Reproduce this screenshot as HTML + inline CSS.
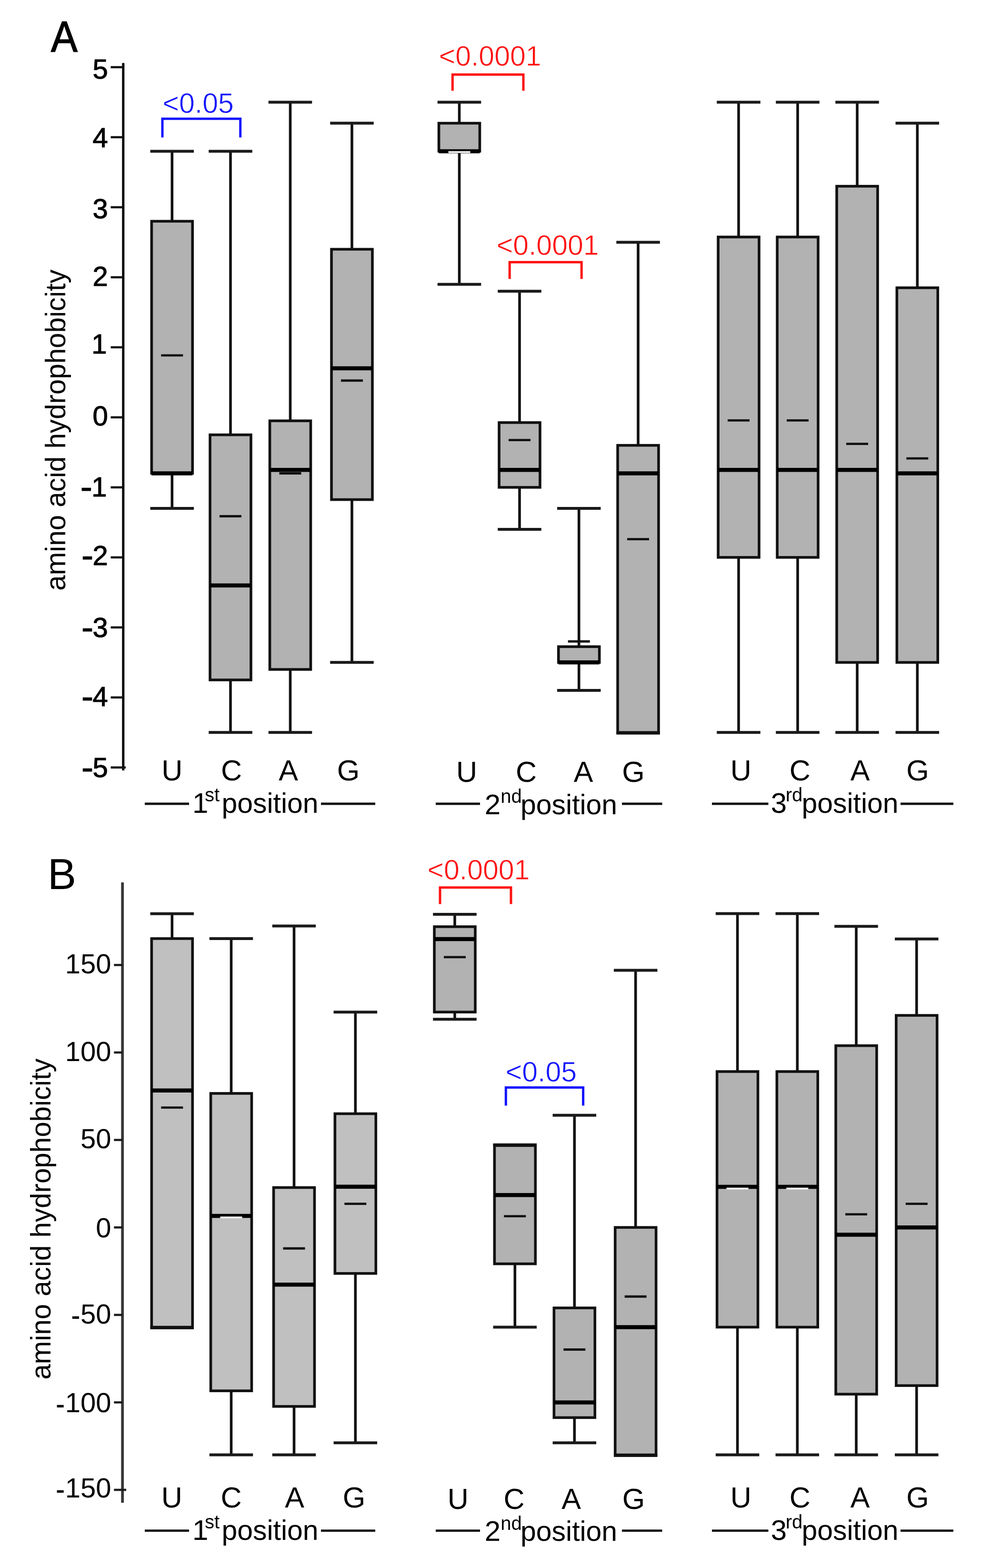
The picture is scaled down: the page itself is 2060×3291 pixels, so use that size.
<!DOCTYPE html>
<html><head><meta charset="utf-8"><title>Amino acid hydrophobicity by codon position</title>
<style>html,body{margin:0;padding:0;background:#fff;}body{width:2060px;height:3291px;overflow:hidden;}svg{display:block;}</style>
</head><body>
<svg width="2060" height="3291" viewBox="0 0 2060 3291" font-family="'Liberation Sans', Arial, Helvetica, sans-serif">
<rect width="2060" height="3291" fill="#fff"/>
<g stroke-linecap="butt">
<text x="107" y="108.1" font-size="90" text-anchor="start" fill="#000" stroke="#000" stroke-width="1.6" textLength="55.8" lengthAdjust="spacingAndGlyphs">A</text>
<line x1="258.8" y1="132.3" x2="258.8" y2="1617" stroke="#000" stroke-width="5.0"/>
<line x1="232.5" y1="141" x2="258.8" y2="141" stroke="#111" stroke-width="4.6"/>
<text x="226.8" y="165.4" font-size="58" text-anchor="end" fill="#000" stroke="#000" stroke-width="1.1">5</text>
<line x1="232.5" y1="287.98" x2="258.8" y2="287.98" stroke="#111" stroke-width="4.6"/>
<text x="226.8" y="309" font-size="58" text-anchor="end" fill="#000" stroke="#000" stroke-width="1.1">4</text>
<line x1="232.5" y1="434.96" x2="258.8" y2="434.96" stroke="#111" stroke-width="4.6"/>
<text x="226.8" y="458" font-size="58" text-anchor="end" fill="#000" stroke="#000" stroke-width="1.1">3</text>
<line x1="232.5" y1="581.94" x2="258.8" y2="581.94" stroke="#111" stroke-width="4.6"/>
<text x="226.8" y="599.5" font-size="58" text-anchor="end" fill="#000" stroke="#000" stroke-width="1.1">2</text>
<line x1="232.5" y1="728.92" x2="258.8" y2="728.92" stroke="#111" stroke-width="4.6"/>
<text x="224.5" y="742.3" font-size="58" text-anchor="end" fill="#000" stroke="#000" stroke-width="1.1">1</text>
<line x1="232.5" y1="875.9" x2="258.8" y2="875.9" stroke="#111" stroke-width="4.6"/>
<text x="226.8" y="893.3" font-size="58" text-anchor="end" fill="#000" stroke="#000" stroke-width="1.1">0</text>
<line x1="232.5" y1="1022.88" x2="258.8" y2="1022.88" stroke="#111" stroke-width="4.6"/>
<text x="224.5" y="1041.5" font-size="58" text-anchor="end" fill="#000" stroke="#000" stroke-width="1.1">1</text><text x="0" y="0" font-size="58" text-anchor="end" transform="translate(193.75 1045.5) scale(1.3 1.25)" stroke="#000" stroke-width="0.9">-</text>
<line x1="232.5" y1="1169.86" x2="258.8" y2="1169.86" stroke="#111" stroke-width="4.6"/>
<text x="226.8" y="1185.5" font-size="58" text-anchor="end" fill="#000" stroke="#000" stroke-width="1.1">2</text><text x="0" y="0" font-size="58" text-anchor="end" transform="translate(196.05 1189.5) scale(1.3 1.25)" stroke="#000" stroke-width="0.9">-</text>
<line x1="232.5" y1="1316.84" x2="258.8" y2="1316.84" stroke="#111" stroke-width="4.6"/>
<text x="226.8" y="1336.8" font-size="58" text-anchor="end" fill="#000" stroke="#000" stroke-width="1.1">3</text><text x="0" y="0" font-size="58" text-anchor="end" transform="translate(196.05 1340.8) scale(1.3 1.25)" stroke="#000" stroke-width="0.9">-</text>
<line x1="232.5" y1="1463.82" x2="258.8" y2="1463.82" stroke="#111" stroke-width="4.6"/>
<text x="226.8" y="1481.6" font-size="58" text-anchor="end" fill="#000" stroke="#000" stroke-width="1.1">4</text><text x="0" y="0" font-size="58" text-anchor="end" transform="translate(196.05 1485.6) scale(1.3 1.25)" stroke="#000" stroke-width="0.9">-</text>
<line x1="232.5" y1="1610.8" x2="264" y2="1610.8" stroke="#111" stroke-width="4.6"/>
<text x="226.8" y="1631.1" font-size="58" text-anchor="end" fill="#000" stroke="#000" stroke-width="1.1">5</text><text x="0" y="0" font-size="58" text-anchor="end" transform="translate(196.05 1635.1) scale(1.3 1.25)" stroke="#000" stroke-width="0.9">-</text>
<text transform="translate(137.3 902.7) rotate(-90)" font-size="58.3" text-anchor="middle">amino acid hydrophobicity</text>
<line x1="361.3" y1="317.38" x2="361.3" y2="464.36" stroke="#111" stroke-width="5.6"/>
<line x1="361.3" y1="993.48" x2="361.3" y2="1066.97" stroke="#111" stroke-width="5.6"/>
<line x1="315.55" y1="317.38" x2="407.05" y2="317.38" stroke="#1a1a1a" stroke-width="6.0"/>
<line x1="315.55" y1="1066.97" x2="407.05" y2="1066.97" stroke="#1a1a1a" stroke-width="6.0"/>
<rect x="318.35" y="464.36" width="85.9" height="529.13" fill="#b2b2b2" stroke="#111" stroke-width="5.6"/>
<line x1="318.35" y1="993.48" x2="404.25" y2="993.48" stroke="#000" stroke-width="8.5"/>
<line x1="338.3" y1="745.82" x2="384.3" y2="745.82" stroke="#111" stroke-width="4.8"/>
<line x1="484" y1="317.38" x2="484" y2="912.64" stroke="#111" stroke-width="5.6"/>
<line x1="484" y1="1427.07" x2="484" y2="1537.31" stroke="#111" stroke-width="5.6"/>
<line x1="438.25" y1="317.38" x2="529.75" y2="317.38" stroke="#1a1a1a" stroke-width="6.0"/>
<line x1="438.25" y1="1537.31" x2="529.75" y2="1537.31" stroke="#1a1a1a" stroke-width="6.0"/>
<rect x="441.05" y="912.64" width="85.9" height="514.43" fill="#b2b2b2" stroke="#111" stroke-width="5.6"/>
<line x1="441.05" y1="1228.65" x2="526.95" y2="1228.65" stroke="#000" stroke-width="8.5"/>
<line x1="461" y1="1083.51" x2="507" y2="1083.51" stroke="#111" stroke-width="4.8"/>
<line x1="609.5" y1="214.49" x2="609.5" y2="883.25" stroke="#111" stroke-width="5.6"/>
<line x1="609.5" y1="1405.03" x2="609.5" y2="1537.31" stroke="#111" stroke-width="5.6"/>
<line x1="563.75" y1="214.49" x2="655.25" y2="214.49" stroke="#1a1a1a" stroke-width="6.0"/>
<line x1="563.75" y1="1537.31" x2="655.25" y2="1537.31" stroke="#1a1a1a" stroke-width="6.0"/>
<rect x="566.55" y="883.25" width="85.9" height="521.78" fill="#b2b2b2" stroke="#111" stroke-width="5.6"/>
<line x1="566.55" y1="986.13" x2="652.45" y2="986.13" stroke="#000" stroke-width="8.5"/>
<line x1="586.5" y1="993.48" x2="632.5" y2="993.48" stroke="#111" stroke-width="4.8"/>
<line x1="739" y1="258.58" x2="739" y2="523.15" stroke="#111" stroke-width="5.6"/>
<line x1="739" y1="1048.6" x2="739" y2="1390.33" stroke="#111" stroke-width="5.6"/>
<line x1="693.25" y1="258.58" x2="784.75" y2="258.58" stroke="#1a1a1a" stroke-width="6.0"/>
<line x1="693.25" y1="1390.33" x2="784.75" y2="1390.33" stroke="#1a1a1a" stroke-width="6.0"/>
<rect x="696.05" y="523.15" width="85.9" height="525.45" fill="#b2b2b2" stroke="#111" stroke-width="5.6"/>
<line x1="696.05" y1="773.01" x2="781.95" y2="773.01" stroke="#000" stroke-width="8.5"/>
<line x1="716" y1="798.74" x2="762" y2="798.74" stroke="#111" stroke-width="4.8"/>
<line x1="964.5" y1="214.49" x2="964.5" y2="258.58" stroke="#111" stroke-width="5.6"/>
<line x1="964.5" y1="317.38" x2="964.5" y2="596.64" stroke="#111" stroke-width="5.6"/>
<line x1="918.75" y1="214.49" x2="1010.25" y2="214.49" stroke="#1a1a1a" stroke-width="6.0"/>
<line x1="918.75" y1="596.64" x2="1010.25" y2="596.64" stroke="#1a1a1a" stroke-width="6.0"/>
<rect x="921.55" y="258.58" width="85.9" height="58.79" fill="#b2b2b2" stroke="#111" stroke-width="5.6"/>
<line x1="921.55" y1="317.38" x2="1007.45" y2="317.38" stroke="#000" stroke-width="8.5"/>
<rect x="941.5" y="317.21" width="46" height="4" fill="#f0f0f0"/>
<line x1="1091" y1="611.34" x2="1091" y2="886.92" stroke="#111" stroke-width="5.6"/>
<line x1="1091" y1="1022.88" x2="1091" y2="1111.07" stroke="#111" stroke-width="5.6"/>
<line x1="1045.25" y1="611.34" x2="1136.75" y2="611.34" stroke="#1a1a1a" stroke-width="6.0"/>
<line x1="1045.25" y1="1111.07" x2="1136.75" y2="1111.07" stroke="#1a1a1a" stroke-width="6.0"/>
<rect x="1048.05" y="886.92" width="85.9" height="135.96" fill="#b2b2b2" stroke="#111" stroke-width="5.6"/>
<line x1="1048.05" y1="986.13" x2="1133.95" y2="986.13" stroke="#000" stroke-width="8.5"/>
<line x1="1068" y1="923.67" x2="1114" y2="923.67" stroke="#111" stroke-width="4.8"/>
<line x1="1215.7" y1="1066.97" x2="1215.7" y2="1357.26" stroke="#111" stroke-width="5.6"/>
<line x1="1215.7" y1="1390.33" x2="1215.7" y2="1449.12" stroke="#111" stroke-width="5.6"/>
<line x1="1169.95" y1="1066.97" x2="1261.45" y2="1066.97" stroke="#1a1a1a" stroke-width="6.0"/>
<line x1="1169.95" y1="1449.12" x2="1261.45" y2="1449.12" stroke="#1a1a1a" stroke-width="6.0"/>
<rect x="1172.75" y="1357.26" width="85.9" height="33.07" fill="#b2b2b2" stroke="#111" stroke-width="5.6"/>
<line x1="1172.75" y1="1390.33" x2="1258.65" y2="1390.33" stroke="#000" stroke-width="8.5"/>
<line x1="1192.7" y1="1346.24" x2="1238.7" y2="1346.24" stroke="#111" stroke-width="4.8"/>
<line x1="1340" y1="508.45" x2="1340" y2="934.69" stroke="#111" stroke-width="5.6"/>
<line x1="1294.25" y1="508.45" x2="1385.75" y2="508.45" stroke="#1a1a1a" stroke-width="6.0"/>
<line x1="1294.25" y1="1538.81" x2="1385.75" y2="1538.81" stroke="#1a1a1a" stroke-width="6.0"/>
<rect x="1297.05" y="934.69" width="85.9" height="602.62" fill="#b2b2b2" stroke="#111" stroke-width="5.6"/>
<line x1="1297.05" y1="993.48" x2="1382.95" y2="993.48" stroke="#000" stroke-width="8.5"/>
<line x1="1317" y1="1131.65" x2="1363" y2="1131.65" stroke="#111" stroke-width="4.8"/>
<line x1="1551" y1="214.49" x2="1551" y2="497.43" stroke="#111" stroke-width="5.6"/>
<line x1="1551" y1="1169.86" x2="1551" y2="1537.31" stroke="#111" stroke-width="5.6"/>
<line x1="1505.25" y1="214.49" x2="1596.75" y2="214.49" stroke="#1a1a1a" stroke-width="6.0"/>
<line x1="1505.25" y1="1537.31" x2="1596.75" y2="1537.31" stroke="#1a1a1a" stroke-width="6.0"/>
<rect x="1508.05" y="497.43" width="85.9" height="672.43" fill="#b2b2b2" stroke="#111" stroke-width="5.6"/>
<line x1="1508.05" y1="986.13" x2="1593.95" y2="986.13" stroke="#000" stroke-width="8.5"/>
<line x1="1528" y1="882.37" x2="1574" y2="882.37" stroke="#111" stroke-width="4.8"/>
<line x1="1675" y1="214.49" x2="1675" y2="497.43" stroke="#111" stroke-width="5.6"/>
<line x1="1675" y1="1169.86" x2="1675" y2="1537.31" stroke="#111" stroke-width="5.6"/>
<line x1="1629.25" y1="214.49" x2="1720.75" y2="214.49" stroke="#1a1a1a" stroke-width="6.0"/>
<line x1="1629.25" y1="1537.31" x2="1720.75" y2="1537.31" stroke="#1a1a1a" stroke-width="6.0"/>
<rect x="1632.05" y="497.43" width="85.9" height="672.43" fill="#b2b2b2" stroke="#111" stroke-width="5.6"/>
<line x1="1632.05" y1="986.13" x2="1717.95" y2="986.13" stroke="#000" stroke-width="8.5"/>
<line x1="1652" y1="882.37" x2="1698" y2="882.37" stroke="#111" stroke-width="4.8"/>
<line x1="1800" y1="214.49" x2="1800" y2="390.87" stroke="#111" stroke-width="5.6"/>
<line x1="1800" y1="1390.33" x2="1800" y2="1537.31" stroke="#111" stroke-width="5.6"/>
<line x1="1754.25" y1="214.49" x2="1845.75" y2="214.49" stroke="#1a1a1a" stroke-width="6.0"/>
<line x1="1754.25" y1="1537.31" x2="1845.75" y2="1537.31" stroke="#1a1a1a" stroke-width="6.0"/>
<rect x="1757.05" y="390.87" width="85.9" height="999.46" fill="#b2b2b2" stroke="#111" stroke-width="5.6"/>
<line x1="1757.05" y1="986.13" x2="1842.95" y2="986.13" stroke="#000" stroke-width="8.5"/>
<line x1="1777" y1="931.61" x2="1823" y2="931.61" stroke="#111" stroke-width="4.8"/>
<line x1="1926.3" y1="258.58" x2="1926.3" y2="603.99" stroke="#111" stroke-width="5.6"/>
<line x1="1926.3" y1="1390.33" x2="1926.3" y2="1537.31" stroke="#111" stroke-width="5.6"/>
<line x1="1880.55" y1="258.58" x2="1972.05" y2="258.58" stroke="#1a1a1a" stroke-width="6.0"/>
<line x1="1880.55" y1="1537.31" x2="1972.05" y2="1537.31" stroke="#1a1a1a" stroke-width="6.0"/>
<rect x="1883.35" y="603.99" width="85.9" height="786.34" fill="#b2b2b2" stroke="#111" stroke-width="5.6"/>
<line x1="1883.35" y1="993.48" x2="1969.25" y2="993.48" stroke="#000" stroke-width="8.5"/>
<line x1="1903.3" y1="962.18" x2="1949.3" y2="962.18" stroke="#111" stroke-width="4.8"/>
<text x="100" y="1865.9" font-size="90" text-anchor="start" fill="#000" >B</text>
<line x1="257.2" y1="1852" x2="257.2" y2="3154" stroke="#383838" stroke-width="5.8"/>
<line x1="239.3" y1="2025.4" x2="257.2" y2="2025.4" stroke="#1c1c1c" stroke-width="4.6"/>
<text x="233.5" y="2042.8" font-size="58" text-anchor="end" fill="#000" >150</text>
<line x1="239.3" y1="2209" x2="257.2" y2="2209" stroke="#1c1c1c" stroke-width="4.6"/>
<text x="233.5" y="2226.6" font-size="58" text-anchor="end" fill="#000" >100</text>
<line x1="239.3" y1="2392.6" x2="257.2" y2="2392.6" stroke="#1c1c1c" stroke-width="4.6"/>
<text x="233.5" y="2410.2" font-size="58" text-anchor="end" fill="#000" >50</text>
<line x1="239.3" y1="2576.2" x2="257.2" y2="2576.2" stroke="#1c1c1c" stroke-width="4.6"/>
<text x="233.5" y="2597.2" font-size="58" text-anchor="end" fill="#000" >0</text>
<line x1="239.3" y1="2759.8" x2="257.2" y2="2759.8" stroke="#1c1c1c" stroke-width="4.6"/>
<text x="233.5" y="2778.4" font-size="58" text-anchor="end" fill="#000" >50</text><text x="0" y="0" font-size="58" text-anchor="end" transform="translate(168.5 2782.9) scale(1.0 1.15)">-</text>
<line x1="239.3" y1="2943.4" x2="257.2" y2="2943.4" stroke="#1c1c1c" stroke-width="4.6"/>
<text x="233.5" y="2964.3" font-size="58" text-anchor="end" fill="#000" >100</text><text x="0" y="0" font-size="58" text-anchor="end" transform="translate(136.26 2968.8) scale(1.0 1.15)">-</text>
<line x1="239.3" y1="3127" x2="265" y2="3127" stroke="#1c1c1c" stroke-width="4.6"/>
<text x="233.5" y="3143" font-size="58" text-anchor="end" fill="#000" >150</text><text x="0" y="0" font-size="58" text-anchor="end" transform="translate(136.26 3147.5) scale(1.0 1.15)">-</text>
<text transform="translate(105.8 2558.6) rotate(-90)" font-size="58.3" text-anchor="middle">amino acid hydrophobicity</text>
<line x1="361.3" y1="1917.81" x2="361.3" y2="1969.95" stroke="#111" stroke-width="5.6"/>
<line x1="315.55" y1="1917.81" x2="407.05" y2="1917.81" stroke="#1a1a1a" stroke-width="6.0"/>
<line x1="315.55" y1="2787" x2="407.05" y2="2787" stroke="#1a1a1a" stroke-width="6.0"/>
<rect x="318.35" y="1969.95" width="85.9" height="815.55" fill="#c0c0c0" stroke="#111" stroke-width="5.6"/>
<line x1="318.35" y1="2288.68" x2="404.25" y2="2288.68" stroke="#000" stroke-width="8.5"/>
<line x1="338.3" y1="2324.67" x2="384.3" y2="2324.67" stroke="#111" stroke-width="4.8"/>
<line x1="485.5" y1="1969.95" x2="485.5" y2="2294.92" stroke="#111" stroke-width="5.6"/>
<line x1="485.5" y1="2919.16" x2="485.5" y2="3053.56" stroke="#111" stroke-width="5.6"/>
<line x1="439.75" y1="1969.95" x2="531.25" y2="1969.95" stroke="#1a1a1a" stroke-width="6.0"/>
<line x1="439.75" y1="3053.56" x2="531.25" y2="3053.56" stroke="#1a1a1a" stroke-width="6.0"/>
<rect x="442.55" y="2294.92" width="85.9" height="624.24" fill="#c0c0c0" stroke="#111" stroke-width="5.6"/>
<line x1="442.55" y1="2551.96" x2="528.45" y2="2551.96" stroke="#000" stroke-width="8.5"/>
<rect x="462.5" y="2553.27" width="46" height="4" fill="#f0f0f0"/>
<line x1="617.5" y1="1943.51" x2="617.5" y2="2492.48" stroke="#111" stroke-width="5.6"/>
<line x1="617.5" y1="2951.85" x2="617.5" y2="3053.56" stroke="#111" stroke-width="5.6"/>
<line x1="571.75" y1="1943.51" x2="663.25" y2="1943.51" stroke="#1a1a1a" stroke-width="6.0"/>
<line x1="571.75" y1="3053.56" x2="663.25" y2="3053.56" stroke="#1a1a1a" stroke-width="6.0"/>
<rect x="574.55" y="2492.48" width="85.9" height="459.37" fill="#c0c0c0" stroke="#111" stroke-width="5.6"/>
<line x1="574.55" y1="2696.27" x2="660.45" y2="2696.27" stroke="#000" stroke-width="8.5"/>
<line x1="594.5" y1="2620.26" x2="640.5" y2="2620.26" stroke="#111" stroke-width="4.8"/>
<line x1="746.3" y1="2124.18" x2="746.3" y2="2337.52" stroke="#111" stroke-width="5.6"/>
<line x1="746.3" y1="2672.77" x2="746.3" y2="3028.22" stroke="#111" stroke-width="5.6"/>
<line x1="700.55" y1="2124.18" x2="792.05" y2="2124.18" stroke="#1a1a1a" stroke-width="6.0"/>
<line x1="700.55" y1="3028.22" x2="792.05" y2="3028.22" stroke="#1a1a1a" stroke-width="6.0"/>
<rect x="703.35" y="2337.52" width="85.9" height="335.25" fill="#c0c0c0" stroke="#111" stroke-width="5.6"/>
<line x1="703.35" y1="2490.64" x2="789.25" y2="2490.64" stroke="#000" stroke-width="8.5"/>
<line x1="723.3" y1="2526.63" x2="769.3" y2="2526.63" stroke="#111" stroke-width="4.8"/>
<line x1="955" y1="1918.91" x2="955" y2="1944.98" stroke="#111" stroke-width="5.6"/>
<line x1="955" y1="2124.18" x2="955" y2="2139.23" stroke="#111" stroke-width="5.6"/>
<line x1="909.25" y1="1918.91" x2="1000.75" y2="1918.91" stroke="#1a1a1a" stroke-width="6.0"/>
<line x1="909.25" y1="2139.23" x2="1000.75" y2="2139.23" stroke="#1a1a1a" stroke-width="6.0"/>
<rect x="912.05" y="1944.98" width="85.9" height="179.19" fill="#b2b2b2" stroke="#111" stroke-width="5.6"/>
<line x1="912.05" y1="1971.05" x2="997.95" y2="1971.05" stroke="#000" stroke-width="8.5"/>
<line x1="932" y1="2008.88" x2="978" y2="2008.88" stroke="#111" stroke-width="4.8"/>
<line x1="1081.3" y1="2652.58" x2="1081.3" y2="2785.5" stroke="#111" stroke-width="5.6"/>
<line x1="1035.55" y1="2402.85" x2="1127.05" y2="2402.85" stroke="#1a1a1a" stroke-width="6.0"/>
<line x1="1035.55" y1="2785.5" x2="1127.05" y2="2785.5" stroke="#1a1a1a" stroke-width="6.0"/>
<rect x="1038.35" y="2404.35" width="85.9" height="248.23" fill="#b2b2b2" stroke="#111" stroke-width="5.6"/>
<line x1="1038.35" y1="2508.27" x2="1124.25" y2="2508.27" stroke="#000" stroke-width="8.5"/>
<line x1="1058.3" y1="2552.7" x2="1104.3" y2="2552.7" stroke="#111" stroke-width="4.8"/>
<line x1="1206.3" y1="2340.82" x2="1206.3" y2="2745.11" stroke="#111" stroke-width="5.6"/>
<line x1="1206.3" y1="2975.35" x2="1206.3" y2="3028.22" stroke="#111" stroke-width="5.6"/>
<line x1="1160.55" y1="2340.82" x2="1252.05" y2="2340.82" stroke="#1a1a1a" stroke-width="6.0"/>
<line x1="1160.55" y1="3028.22" x2="1252.05" y2="3028.22" stroke="#1a1a1a" stroke-width="6.0"/>
<rect x="1163.35" y="2745.11" width="85.9" height="230.23" fill="#b2b2b2" stroke="#111" stroke-width="5.6"/>
<line x1="1163.35" y1="2943.4" x2="1249.25" y2="2943.4" stroke="#000" stroke-width="8.5"/>
<line x1="1183.3" y1="2832.51" x2="1229.3" y2="2832.51" stroke="#111" stroke-width="4.8"/>
<line x1="1334.7" y1="2036.42" x2="1334.7" y2="2576.2" stroke="#111" stroke-width="5.6"/>
<line x1="1288.95" y1="2036.42" x2="1380.45" y2="2036.42" stroke="#1a1a1a" stroke-width="6.0"/>
<line x1="1288.95" y1="3055.06" x2="1380.45" y2="3055.06" stroke="#1a1a1a" stroke-width="6.0"/>
<rect x="1291.75" y="2576.2" width="85.9" height="477.36" fill="#b2b2b2" stroke="#111" stroke-width="5.6"/>
<line x1="1291.75" y1="2785.5" x2="1377.65" y2="2785.5" stroke="#000" stroke-width="8.5"/>
<line x1="1311.7" y1="2721.24" x2="1357.7" y2="2721.24" stroke="#111" stroke-width="4.8"/>
<line x1="1548.6" y1="1917.44" x2="1548.6" y2="2249.02" stroke="#111" stroke-width="5.6"/>
<line x1="1548.6" y1="2785.5" x2="1548.6" y2="3053.56" stroke="#111" stroke-width="5.6"/>
<line x1="1502.85" y1="1917.44" x2="1594.35" y2="1917.44" stroke="#1a1a1a" stroke-width="6.0"/>
<line x1="1502.85" y1="3053.56" x2="1594.35" y2="3053.56" stroke="#1a1a1a" stroke-width="6.0"/>
<rect x="1505.65" y="2249.02" width="85.9" height="536.48" fill="#b2b2b2" stroke="#111" stroke-width="5.6"/>
<line x1="1505.65" y1="2491.01" x2="1591.55" y2="2491.01" stroke="#000" stroke-width="8.5"/>
<rect x="1525.6" y="2492.68" width="46" height="4" fill="#f0f0f0"/>
<line x1="1674.3" y1="1917.44" x2="1674.3" y2="2249.02" stroke="#111" stroke-width="5.6"/>
<line x1="1674.3" y1="2785.5" x2="1674.3" y2="3053.56" stroke="#111" stroke-width="5.6"/>
<line x1="1628.55" y1="1917.44" x2="1720.05" y2="1917.44" stroke="#1a1a1a" stroke-width="6.0"/>
<line x1="1628.55" y1="3053.56" x2="1720.05" y2="3053.56" stroke="#1a1a1a" stroke-width="6.0"/>
<rect x="1631.35" y="2249.02" width="85.9" height="536.48" fill="#b2b2b2" stroke="#111" stroke-width="5.6"/>
<line x1="1631.35" y1="2491.01" x2="1717.25" y2="2491.01" stroke="#000" stroke-width="8.5"/>
<rect x="1651.3" y="2492.68" width="46" height="4" fill="#f0f0f0"/>
<line x1="1798" y1="1944.25" x2="1798" y2="2194.68" stroke="#111" stroke-width="5.6"/>
<line x1="1798" y1="2926.14" x2="1798" y2="3053.56" stroke="#111" stroke-width="5.6"/>
<line x1="1752.25" y1="1944.25" x2="1843.75" y2="1944.25" stroke="#1a1a1a" stroke-width="6.0"/>
<line x1="1752.25" y1="3053.56" x2="1843.75" y2="3053.56" stroke="#1a1a1a" stroke-width="6.0"/>
<rect x="1755.05" y="2194.68" width="85.9" height="731.46" fill="#b2b2b2" stroke="#111" stroke-width="5.6"/>
<line x1="1755.05" y1="2591.62" x2="1840.95" y2="2591.62" stroke="#000" stroke-width="8.5"/>
<line x1="1775" y1="2548.66" x2="1821" y2="2548.66" stroke="#111" stroke-width="4.8"/>
<line x1="1924.8" y1="1970.69" x2="1924.8" y2="2131.15" stroke="#111" stroke-width="5.6"/>
<line x1="1924.8" y1="2908.15" x2="1924.8" y2="3053.56" stroke="#111" stroke-width="5.6"/>
<line x1="1879.05" y1="1970.69" x2="1970.55" y2="1970.69" stroke="#1a1a1a" stroke-width="6.0"/>
<line x1="1879.05" y1="3053.56" x2="1970.55" y2="3053.56" stroke="#1a1a1a" stroke-width="6.0"/>
<rect x="1881.85" y="2131.15" width="85.9" height="777" fill="#b2b2b2" stroke="#111" stroke-width="5.6"/>
<line x1="1881.85" y1="2576.2" x2="1967.75" y2="2576.2" stroke="#000" stroke-width="8.5"/>
<line x1="1901.8" y1="2526.63" x2="1947.8" y2="2526.63" stroke="#111" stroke-width="4.8"/>
<text x="361.4" y="1638" font-size="61" text-anchor="middle" fill="#000" >U</text>
<text x="486" y="1638" font-size="61" text-anchor="middle" fill="#000" >C</text>
<text x="605.5" y="1638" font-size="61" text-anchor="middle" fill="#000" >A</text>
<text x="731.4" y="1638" font-size="61" text-anchor="middle" fill="#000" >G</text>
<text x="980" y="1641.2" font-size="61" text-anchor="middle" fill="#000" >U</text>
<text x="1105" y="1641.2" font-size="61" text-anchor="middle" fill="#000" >C</text>
<text x="1225" y="1641.2" font-size="61" text-anchor="middle" fill="#000" >A</text>
<text x="1330" y="1641.2" font-size="61" text-anchor="middle" fill="#000" >G</text>
<text x="1555.8" y="1638" font-size="61" text-anchor="middle" fill="#000" >U</text>
<text x="1679.8" y="1638" font-size="61" text-anchor="middle" fill="#000" >C</text>
<text x="1806" y="1638" font-size="61" text-anchor="middle" fill="#000" >A</text>
<text x="1926.9" y="1638" font-size="61" text-anchor="middle" fill="#000" >G</text>
<text x="360.8" y="3163.5" font-size="61" text-anchor="middle" fill="#000" >U</text>
<text x="485.5" y="3163.5" font-size="61" text-anchor="middle" fill="#000" >C</text>
<text x="618.7" y="3163.5" font-size="61" text-anchor="middle" fill="#000" >A</text>
<text x="743.4" y="3163.5" font-size="61" text-anchor="middle" fill="#000" >G</text>
<text x="961.9" y="3166.7" font-size="61" text-anchor="middle" fill="#000" >U</text>
<text x="1079.5" y="3166.7" font-size="61" text-anchor="middle" fill="#000" >C</text>
<text x="1199.6" y="3166.7" font-size="61" text-anchor="middle" fill="#000" >A</text>
<text x="1330.5" y="3166.7" font-size="61" text-anchor="middle" fill="#000" >G</text>
<text x="1555.8" y="3163.5" font-size="61" text-anchor="middle" fill="#000" >U</text>
<text x="1679.8" y="3163.5" font-size="61" text-anchor="middle" fill="#000" >C</text>
<text x="1806" y="3163.5" font-size="61" text-anchor="middle" fill="#000" >A</text>
<text x="1926.9" y="3163.5" font-size="61" text-anchor="middle" fill="#000" >G</text>
<line x1="304" y1="1687" x2="397" y2="1687" stroke="#111" stroke-width="4.8"/>
<line x1="674" y1="1687" x2="788" y2="1687" stroke="#111" stroke-width="4.8"/>
<text x="404" y="1705.8" font-size="60">1</text>
<text x="430" y="1682.3" font-size="40">st</text>
<text x="465.5" y="1705.8" font-size="60" textLength="203" lengthAdjust="spacingAndGlyphs">position</text>
<line x1="915" y1="1687" x2="1008" y2="1687" stroke="#111" stroke-width="4.8"/>
<line x1="1306" y1="1687" x2="1390.5" y2="1687" stroke="#111" stroke-width="4.8"/>
<text x="1017.7" y="1708.6" font-size="60">2</text>
<text x="1051.2" y="1685.1" font-size="40">nd</text>
<text x="1093.1" y="1708.6" font-size="60" textLength="203" lengthAdjust="spacingAndGlyphs">position</text>
<line x1="1495" y1="1687" x2="1613.5" y2="1687" stroke="#111" stroke-width="4.8"/>
<line x1="1891" y1="1687" x2="2002" y2="1687" stroke="#111" stroke-width="4.8"/>
<text x="1618.8" y="1705.8" font-size="60">3</text>
<text x="1649.8" y="1682.3" font-size="40">rd</text>
<text x="1683.5" y="1705.8" font-size="60" textLength="203" lengthAdjust="spacingAndGlyphs">position</text>
<line x1="304" y1="3212.7" x2="397" y2="3212.7" stroke="#111" stroke-width="4.8"/>
<line x1="674" y1="3212.7" x2="788" y2="3212.7" stroke="#111" stroke-width="4.8"/>
<text x="404" y="3231.5" font-size="60">1</text>
<text x="430" y="3208" font-size="40">st</text>
<text x="465.5" y="3231.5" font-size="60" textLength="203" lengthAdjust="spacingAndGlyphs">position</text>
<line x1="915" y1="3212.7" x2="1008" y2="3212.7" stroke="#111" stroke-width="4.8"/>
<line x1="1306" y1="3212.7" x2="1390.5" y2="3212.7" stroke="#111" stroke-width="4.8"/>
<text x="1017.7" y="3234.3" font-size="60">2</text>
<text x="1051.2" y="3210.8" font-size="40">nd</text>
<text x="1093.1" y="3234.3" font-size="60" textLength="203" lengthAdjust="spacingAndGlyphs">position</text>
<line x1="1495" y1="3212.7" x2="1613.5" y2="3212.7" stroke="#111" stroke-width="4.8"/>
<line x1="1891" y1="3212.7" x2="2002" y2="3212.7" stroke="#111" stroke-width="4.8"/>
<text x="1618.8" y="3231.5" font-size="60">3</text>
<text x="1649.8" y="3208" font-size="40">rd</text>
<text x="1683.5" y="3231.5" font-size="60" textLength="203" lengthAdjust="spacingAndGlyphs">position</text>
<path d="M341 288.5 V249.3 H504.7 V288.5" fill="none" stroke="#1212ff" stroke-width="5"/><text x="341.6" y="237" font-size="59" fill="#1212ff" stroke="#fff" stroke-width="0.8">&lt;0.05</text>
<path d="M950.3 190.5 V156.5 H1099 V190.5" fill="none" stroke="#ff1010" stroke-width="5"/><text x="921.7" y="138.4" font-size="59" fill="#ff1010" stroke="#fff" stroke-width="0.8">&lt;0.0001</text>
<path d="M1070.2 585.5 V550.3 H1221.2 V585.5" fill="none" stroke="#ff1010" stroke-width="5"/><text x="1042.7" y="534.6" font-size="59" fill="#ff1010" stroke="#fff" stroke-width="0.8">&lt;0.0001</text>
<path d="M924 1897.5 V1862.8 H1073 V1897.5" fill="none" stroke="#ff1010" stroke-width="5"/><text x="897.5" y="1845.7" font-size="59" fill="#ff1010" stroke="#fff" stroke-width="0.8">&lt;0.0001</text>
<path d="M1062.3 2320.5 V2282.4 H1224.6 V2320.5" fill="none" stroke="#1212ff" stroke-width="5"/><text x="1061.8" y="2269.5" font-size="59" fill="#1212ff" stroke="#fff" stroke-width="0.8">&lt;0.05</text>
</g></svg>
</body></html>
